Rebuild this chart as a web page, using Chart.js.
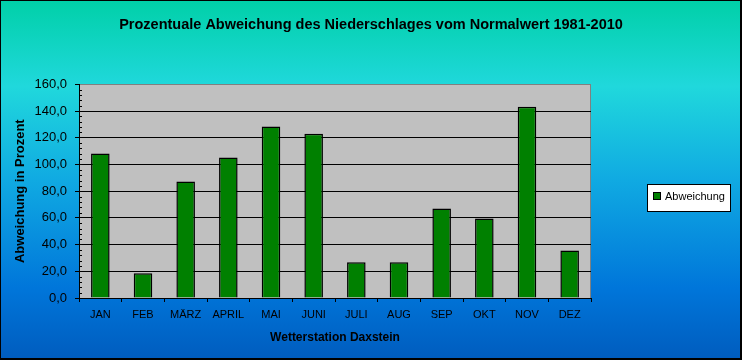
<!DOCTYPE html>
<html>
<head>
<meta charset="utf-8">
<script src="https://cdn.jsdelivr.net/npm/chart.js@4/dist/chart.umd.min.js"></script>
<style>
  html, body { margin: 0; padding: 0; background: #fff; }
  #wrap { width: 742px; height: 360px; }
</style>
</head>
<body>
<div id="wrap"><canvas id="chart" width="742" height="360"></canvas></div>
<script>
const months = ['JAN', 'FEB', 'MÄRZ', 'APRIL', 'MAI', 'JUNI', 'JULI', 'AUG', 'SEP', 'OKT', 'NOV', 'DEZ'];
const abweichung = [108.2, 18.5, 87.2, 105.2, 128.4, 123.1, 26.7, 26.7, 67.0, 59.6, 143.3, 35.6];
const yTicks = [0, 20, 40, 60, 80, 100, 120, 140, 160];

const FONT = "'Liberation Sans', Arial, sans-serif";

// background gradient, plot area fill and outer frame
const backdrop = {
    id: 'backdrop',
    afterLayout(chart) {
        // title is centred over the whole picture, not only the plot
        if (chart.titleBlock) {
            chart.titleBlock.left = 0;
            chart.titleBlock.right = chart.width;
            chart.titleBlock.width = chart.width;
        }
    },
    beforeDraw(chart) {
        const ctx = chart.ctx;
        const a = chart.chartArea;
        const g = ctx.createLinearGradient(0, 0, 0, chart.height);
        g.addColorStop(0, 'rgb(0,208,168)');
        g.addColorStop(0.24, 'rgb(32,216,220)');
        g.addColorStop(0.5, 'rgb(16,170,226)');
        g.addColorStop(0.8, 'rgb(0,118,218)');
        g.addColorStop(1, 'rgb(0,92,190)');
        ctx.save();
        ctx.fillStyle = g;
        ctx.fillRect(0, 0, chart.width, chart.height);
        ctx.fillStyle = '#c0c0c0';
        ctx.fillRect(a.left, a.top, a.right - a.left, a.bottom - a.top);
        ctx.strokeStyle = '#808080';
        ctx.lineWidth = 1;
        ctx.strokeRect(Math.round(a.left) + 0.5, Math.round(a.top) + 0.5,
            Math.round(a.right - a.left) - 1, Math.round(a.bottom - a.top));
        ctx.restore();
    },
    afterDraw(chart) {
        const ctx = chart.ctx;
        const y = chart.scales.y;
        const left = Math.round(chart.chartArea.left);
        ctx.save();
        // minor ticks on the value axis
        ctx.strokeStyle = '#000';
        ctx.lineWidth = 1;
        ctx.beginPath();
        for (let v = 4; v < 160; v += 4) {
            if (v % 20 === 0) continue;
            const py = Math.round(y.getPixelForValue(v)) + 0.5;
            ctx.moveTo(left, py);
            ctx.lineTo(left + 3, py);
        }
        ctx.stroke();

        // legend box
        const ds = chart.data.datasets[0];
        ctx.fillStyle = '#fff';
        ctx.fillRect(647, 184, 84, 28);
        ctx.strokeRect(647.5, 184.5, 83, 27);
        ctx.fillStyle = ds.backgroundColor;
        ctx.fillRect(654, 193, 6, 6);
        ctx.strokeRect(653.5, 192.5, 7, 7);
        ctx.fillStyle = '#000';
        ctx.font = '11px ' + FONT;
        ctx.textBaseline = 'middle';
        ctx.fillText(ds.label, 665, 197);

        // outer frame
        ctx.strokeRect(0.5, 0.5, chart.width - 1, chart.height - 1);
        ctx.fillRect(chart.width - 2, 0, 2, chart.height);
        ctx.fillRect(0, chart.height - 2, chart.width, 2);
        ctx.restore();
    }
};

new Chart(document.getElementById('chart'), {
    type: 'bar',
    data: {
        labels: months,
        datasets: [{
            label: 'Abweichung',
            data: abweichung,
            backgroundColor: '#008000',
            borderColor: '#000',
            borderWidth: 1.5,
            barPercentage: 0.435,
            categoryPercentage: 1
        }]
    },
    options: {
        responsive: false,
        animation: false,
        layout: { padding: { left: 0, right: 151, top: 0, bottom: 0 } },
        plugins: {
            legend: { display: false },
            tooltip: { enabled: false },
            title: {
                display: true,
                text: 'Prozentuale Abweichung des Niederschlages vom Normalwert 1981-2010',
                color: '#000',
                font: { family: FONT, size: 14.5, weight: 'bold' },
                padding: { top: 16, bottom: 51 }
            }
        },
        scales: {
            x: {
                afterFit(scale) { scale.height = 62; },
                grid: { drawOnChartArea: false, color: '#000', tickLength: 4, offset: true },
                border: { color: '#000' },
                ticks: { color: '#000', font: { family: FONT, size: 11 }, padding: 6, maxRotation: 0 },
                title: {
                    display: true,
                    text: 'Wetterstation Daxstein',
                    color: '#000',
                    font: { family: FONT, size: 12, weight: 'bold' },
                    padding: { top: 0, bottom: 15 }
                }
            },
            y: {
                min: 0,
                max: 160,
                afterFit(scale) { scale.width = 79; },
                afterBuildTicks(scale) { scale.ticks = yTicks.map(v => ({ value: v })); },
                grid: {
                    color: c => (c.tick && c.tick.value === 160) ? '#808080' : '#000',
                    tickColor: '#000',
                    tickLength: 4
                },
                border: { color: '#000' },
                ticks: {
                    color: '#000',
                    font: { family: FONT, size: 13 },
                    padding: 8,
                    callback: v => v.toFixed(1).replace('.', ',')
                },
                title: {
                    display: true,
                    text: 'Abweichung in Prozent',
                    color: '#000',
                    font: { family: FONT, size: 13, weight: 'bold' },
                    padding: { top: 13, bottom: 0 }
                }
            }
        }
    },
    plugins: [backdrop]
});
</script>
</body>
</html>
